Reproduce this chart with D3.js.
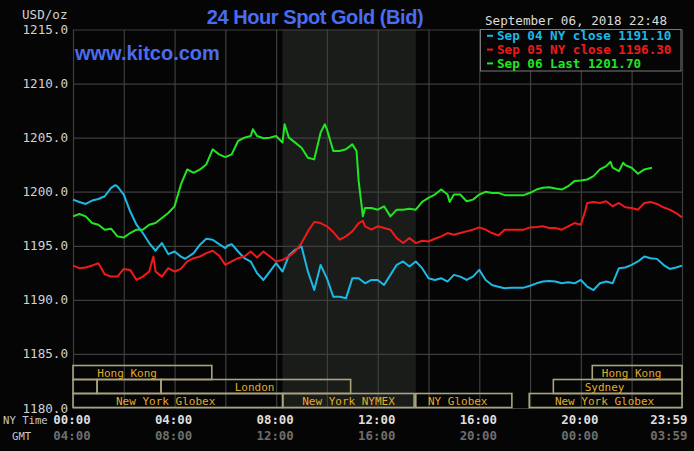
<!DOCTYPE html>
<html><head><meta charset="utf-8">
<script src="https://cdn.jsdelivr.net/npm/d3@7"></script>
<style>html,body{margin:0;padding:0;background:#050505;}svg{display:block}</style>
</head><body><svg id="c" width="694" height="451"></svg>
<script>
// ---------- data ----------
const yTicks = [1180, 1185, 1190, 1195, 1200, 1205, 1210, 1215];
const nyTimeLabels = ["00:00", "04:00", "08:00", "12:00", "16:00", "20:00", "23:59"];
const gmtTimeLabels = ["04:00", "08:00", "12:00", "16:00", "20:00", "00:00", "03:59"];
const gridTimes = ["00:00","02:00","04:00","06:00","08:00","10:00","12:00","14:00","16:00","18:00","20:00","22:00","23:59"];
const pitSession = ["08:15", "13:30"];

const sep04 = [["00:00",1199.27],["00:15",1199.05],["00:30",1198.87],["00:45",1199.18],["01:00",1199.33],["01:15",1199.58],["01:30",1200.36],["01:40",1200.6],["01:45",1200.5],["02:00",1199.74],["02:15",1198.19],["02:30",1196.95],["02:45",1196.18],["03:00",1195.25],["03:15",1194.54],["03:20",1194.8],["03:30",1195.25],["03:45",1194.23],["04:00",1194.47],["04:15",1194.0],["04:25",1193.8],["04:30",1193.92],["04:45",1194.32],["05:00",1195.1],["05:15",1195.65],["05:30",1195.56],["05:45",1195.15],["06:00",1194.78],["06:05",1195.0],["06:15",1195.15],["06:30",1194.47],["06:45",1193.85],["07:00",1193.54],["07:15",1192.46],["07:30",1191.84],["07:45",1192.62],["08:00",1193.39],["08:15",1192.62],["08:30",1194.1],["08:45",1194.63],["09:00",1194.94],["09:15",1192.62],["09:30",1190.91],["09:45",1193.23],["10:00",1191.99],["10:15",1190.29],["10:30",1190.29],["10:45",1190.14],["11:00",1191.99],["11:15",1191.99],["11:30",1191.53],["11:45",1191.84],["12:00",1191.84],["12:15",1191.38],["12:30",1192.31],["12:45",1193.24],["13:00",1193.55],["13:15",1193.08],["13:30",1193.55],["13:45",1192.93],["14:00",1192.0],["14:15",1191.84],["14:30",1192.0],["14:45",1191.69],["15:00",1192.31],["15:15",1192.15],["15:30",1191.84],["15:45",1192.15],["16:00",1192.77],["16:15",1191.84],["16:30",1191.38],["16:45",1191.22],["17:00",1191.07],["17:15",1191.13],["17:30",1191.13],["17:45",1191.13],["18:00",1191.3],["18:15",1191.53],["18:30",1191.69],["18:45",1191.75],["19:00",1191.69],["19:15",1191.53],["19:30",1191.63],["19:45",1191.53],["20:00",1191.84],["20:15",1191.22],["20:30",1190.91],["20:45",1191.53],["21:00",1191.69],["21:15",1191.53],["21:30",1192.93],["21:45",1192.99],["22:00",1193.24],["22:15",1193.55],["22:30",1194.01],["22:45",1193.85],["23:00",1193.79],["23:15",1193.24],["23:30",1192.86],["23:45",1192.99],["23:59",1193.17]];

const sep05 = [["00:00",1193.17],["00:15",1192.93],["00:30",1192.99],["00:45",1193.17],["01:00",1193.39],["01:15",1192.37],["01:30",1192.15],["01:45",1192.15],["02:00",1192.86],["02:15",1192.77],["02:30",1191.84],["02:45",1192.15],["03:00",1192.62],["03:10",1194.0],["03:15",1192.62],["03:30",1192.15],["03:45",1192.93],["04:00",1192.62],["04:15",1192.86],["04:30",1193.55],["04:45",1193.85],["05:00",1194.01],["05:15",1194.32],["05:30",1194.54],["05:45",1194.1],["06:00",1193.24],["06:15",1193.55],["06:30",1193.85],["06:45",1194.01],["07:00",1194.47],["07:15",1193.92],["07:30",1194.47],["07:45",1194.01],["08:00",1193.55],["08:15",1193.7],["08:30",1194.01],["08:45",1194.47],["09:00",1195.25],["09:15",1196.33],["09:30",1197.2],["09:45",1197.1],["10:00",1196.8],["10:15",1196.27],["10:30",1195.56],["10:45",1195.87],["11:00",1196.33],["11:15",1197.1],["11:25",1197.3],["11:30",1196.8],["11:45",1196.49],["12:00",1196.8],["12:15",1196.64],["12:30",1196.49],["12:45",1195.71],["13:00",1195.25],["13:15",1195.71],["13:30",1195.25],["13:45",1195.46],["14:00",1195.4],["14:15",1195.65],["14:30",1195.87],["14:45",1196.18],["15:00",1196.02],["15:15",1196.18],["15:30",1196.33],["15:45",1196.49],["16:00",1196.7],["16:15",1196.49],["16:30",1196.18],["16:45",1195.96],["17:00",1196.49],["17:15",1196.49],["17:30",1196.49],["17:45",1196.49],["18:00",1196.7],["18:15",1196.73],["18:30",1196.8],["18:45",1196.64],["19:00",1196.64],["19:15",1196.49],["19:30",1196.8],["19:45",1197.1],["20:00",1196.95],["20:10",1198.19],["20:15",1198.96],["20:30",1199.05],["20:45",1198.96],["21:00",1199.12],["21:15",1198.65],["21:30",1198.96],["21:45",1198.56],["22:00",1198.5],["22:15",1198.34],["22:30",1198.96],["22:45",1199.05],["23:00",1198.87],["23:15",1198.56],["23:30",1198.34],["23:45",1198.03],["23:59",1197.63]];

const sep06 = [["00:00",1197.72],["00:15",1197.94],["00:30",1197.72],["00:45",1197.11],["01:00",1196.95],["01:15",1196.49],["01:30",1196.58],["01:45",1195.87],["02:00",1195.77],["02:15",1196.18],["02:30",1196.49],["02:45",1196.49],["03:00",1196.95],["03:15",1197.11],["03:30",1197.57],["03:45",1198.03],["04:00",1198.65],["04:15",1200.67],["04:30",1202.06],["04:45",1201.75],["05:00",1202.06],["05:15",1202.52],["05:30",1203.92],["05:45",1203.45],["06:00",1203.2],["06:15",1203.45],["06:30",1204.69],["06:45",1205.0],["07:00",1205.15],["07:05",1205.77],["07:15",1205.15],["07:30",1204.94],["07:45",1205.0],["08:00",1205.15],["08:15",1204.54],["08:20",1206.24],["08:30",1205.0],["08:45",1204.54],["09:00",1204.07],["09:15",1203.14],["09:30",1202.99],["09:45",1205.46],["09:55",1206.24],["10:00",1205.77],["10:15",1203.76],["10:30",1203.76],["10:45",1203.92],["11:00",1204.38],["11:10",1203.76],["11:15",1200.98],["11:25",1197.72],["11:30",1198.5],["11:45",1198.5],["12:00",1198.34],["12:15",1198.65],["12:30",1197.72],["12:45",1198.34],["13:00",1198.34],["13:15",1198.43],["13:30",1198.34],["13:45",1199.06],["14:00",1199.43],["14:15",1199.74],["14:30",1200.2],["14:45",1199.74],["14:50",1199.06],["15:00",1199.74],["15:15",1199.74],["15:30",1199.12],["15:45",1199.27],["16:00",1199.74],["16:15",1199.99],["16:30",1199.89],["16:45",1199.89],["17:00",1199.68],["17:15",1199.68],["17:30",1199.68],["17:45",1199.68],["18:00",1199.9],["18:15",1200.2],["18:30",1200.36],["18:45",1200.42],["19:00",1200.29],["19:15",1200.2],["19:30",1200.51],["19:45",1200.98],["20:00",1201.04],["20:15",1201.13],["20:30",1201.44],["20:45",1202.06],["21:00",1202.37],["21:10",1202.77],["21:15",1202.22],["21:30",1201.9],["21:40",1202.68],["21:45",1202.46],["22:00",1202.22],["22:15",1201.66],["22:30",1202.06],["22:48",1202.22]];

const seriesNames = ["Sep 04 NY close 1191.10", "Sep 05 NY close 1196.30", "Sep 06 Last 1201.70"];
const seriesColors = ["#1cb9e6", "#f01a1a", "#22e622"];

const sessionNames  = ["Hong Kong", "", "", "London", "New York Globex", "New York NYMEX", "NY Globex", "New York Globex", "Sydney", "Hong Kong"];
const sessionRows   = [0, 1, 1, 1, 2, 2, 2, 2, 1, 0];
const sessionStart  = ["00:00", "00:00", "00:57", "03:28", "00:00", "08:16", "13:30", "17:58", "18:55", "20:27"];
const sessionEnd    = ["05:28", "00:57", "03:28", "10:56", "08:15", "13:26", "17:17", "23:59", "23:59", "23:59"];
const sessionLabel  = ["02:08", "", "", "07:09", "03:39", "10:51", "15:09", "20:56", "20:56", "22:00"];

// ---------- setup ----------
const svg = d3.select("#c");
const W = 694, H = 451;
const L = 73, R = 682, T = 29.5, B = 408;
const toMin = s => { const [h, m] = s.split(":").map(Number); return h * 60 + m; };
const x = d3.scaleLinear().domain([0, 1439]).range([L, R]);
const y = d3.scaleLinear().domain([1180, 1215]).range([B, T]);
const mono = "'DejaVu Sans Mono', 'Liberation Mono', monospace";

svg.append("rect").attr("width", W).attr("height", H).attr("fill", "#050505");

// pit session shading
svg.append("rect")
  .attr("x", x(toMin(pitSession[0]))).attr("y", T)
  .attr("width", x(toMin(pitSession[1])) - x(toMin(pitSession[0])))
  .attr("height", B - T).attr("fill", "#1a1c1a");

// grid via axes
const gridCol = "#3e3e3e";
const gy = svg.append("g").attr("transform", `translate(${L},0)`)
  .call(d3.axisLeft(y).tickValues(yTicks).tickSize(-(R - L)).tickFormat(""));
const gx = svg.append("g").attr("transform", `translate(0,${B})`)
  .call(d3.axisBottom(x).tickValues(gridTimes.map(toMin)).tickSize(-(B - T)).tickFormat(""));
[gy, gx].forEach(g => {
  g.select(".domain").remove();
  g.selectAll("line").attr("stroke", gridCol).attr("stroke-width", 1.2);
});

// sessions
const rowTop = [365.5, 379.5, 393.5], rowH = 14;
const sess = sessionNames.map((n, i) => ({ n, r: sessionRows[i], s: toMin(sessionStart[i]), e: toMin(sessionEnd[i]), l: sessionLabel[i] }));
svg.append("g").selectAll("rect").data(sess).join("rect")
  .attr("x", d => x(d.s)).attr("y", d => rowTop[d.r])
  .attr("width", d => x(d.e) - x(d.s)).attr("height", rowH)
  .attr("fill", "none").attr("stroke", "#a9a47e").attr("stroke-width", 1.6);
svg.append("g").selectAll("text").data(sess.filter(d => d.n)).join("text")
  .attr("x", d => x(toMin(d.l))).attr("y", d => rowTop[d.r] + rowH / 2 + 0.5)
  .attr("text-anchor", "middle").attr("dominant-baseline", "central")
  .attr("font-family", mono).attr("font-size", 11).attr("fill", "#e0ac2c")
  .text(d => d.n);

// lines
const line = d3.line().x(d => x(toMin(d[0]))).y(d => y(d[1]));
[sep04, sep05, sep06].forEach((s, i) => {
  svg.append("path").datum(s).attr("d", line)
    .attr("fill", "none").attr("stroke", seriesColors[i])
    .attr("stroke-width", 2).attr("stroke-linejoin", "round");
});

// y labels via axis
const ya = svg.append("g").attr("transform", `translate(${L - 5},0)`)
  .call(d3.axisLeft(y).tickValues(yTicks).tickSize(0).tickPadding(0).tickFormat(d3.format(".1f")));
ya.select(".domain").remove();
ya.selectAll("text").attr("font-family", mono).attr("font-size", 12.6).attr("fill", "#d2d2d2").attr("dy", "0.32em");

// x labels via axes
const nyTicks = nyTimeLabels.map(toMin);
const xa = svg.append("g").attr("transform", `translate(-1.5,${B + 7})`)
  .call(d3.axisBottom(x).tickValues(nyTicks).tickSize(0).tickPadding(0).tickFormat((d, i) => nyTimeLabels[i]));
const xg = svg.append("g").attr("transform", `translate(-1.5,${B + 23})`)
  .call(d3.axisBottom(x).tickValues(nyTicks).tickSize(0).tickPadding(0).tickFormat((d, i) => gmtTimeLabels[i]));
[xa, xg].forEach((g, k) => {
  g.select(".domain").remove();
  g.selectAll("text").attr("font-family", mono).attr("font-size", 12.4).attr("font-weight", "bold")
    .attr("fill", k === 0 ? "#dedede" : "#6e6e6e");
  g.selectAll(".tick").filter((d, i) => i === nyTicks.length - 1).select("text")
    .attr("text-anchor", "end").attr("x", 6.5);
});

svg.append("text").attr("x", 3).attr("y", 420).attr("dominant-baseline", "central")
  .attr("font-family", mono).attr("font-size", 10.6).attr("fill", "#c8c8c8").text("NY Time");
svg.append("text").attr("x", 12).attr("y", 436).attr("dominant-baseline", "central")
  .attr("font-family", mono).attr("font-size", 10.6).attr("fill", "#c8c8c8").text("GMT");

// header texts
svg.append("text").attr("x", 67.5).attr("y", 14).attr("text-anchor", "end").attr("dominant-baseline", "central")
  .attr("font-family", mono).attr("font-size", 12.6).attr("fill", "#d2d2d2").text("USD/oz");
svg.append("text").attr("x", 315).attr("y", 24).attr("text-anchor", "middle")
  .attr("font-family", "'Liberation Sans', Arial, sans-serif").attr("font-weight", "bold")
  .attr("font-size", 20).attr("letter-spacing", "-0.45").attr("fill", "#4a6cf0").text("24 Hour Spot Gold (Bid)");
svg.append("text").attr("x", 75).attr("y", 60).attr("font-family", "'Liberation Sans', Arial, sans-serif")
  .attr("font-weight", "bold").attr("font-size", 20).attr("fill", "#4a6cf0").text("www.kitco.com");
svg.append("text").attr("x", 485).attr("y", 20).attr("dominant-baseline", "central")
  .attr("font-family", mono).attr("font-size", 12.6).attr("fill", "#dcdcdc").text("September 06, 2018 22:48");

// legend
const lg = svg.append("g");
lg.append("rect").attr("x", 480.5).attr("y", 29.5).attr("width", 200.5).attr("height", 41.5)
  .attr("fill", "#050505").attr("stroke", "#7a7a7a").attr("stroke-width", 1);
seriesNames.forEach((n, i) => {
  const cy = 35.8 + i * 13.8;
  lg.append("rect").attr("x", 487).attr("y", cy - 1).attr("width", 6).attr("height", 2).attr("fill", seriesColors[i]);
  lg.append("text").attr("x", 497).attr("y", cy).attr("dominant-baseline", "central")
    .attr("font-family", mono).attr("font-size", 12.6).attr("font-weight", "bold")
    .attr("fill", seriesColors[i]).text(n);
});
</script></body></html>
